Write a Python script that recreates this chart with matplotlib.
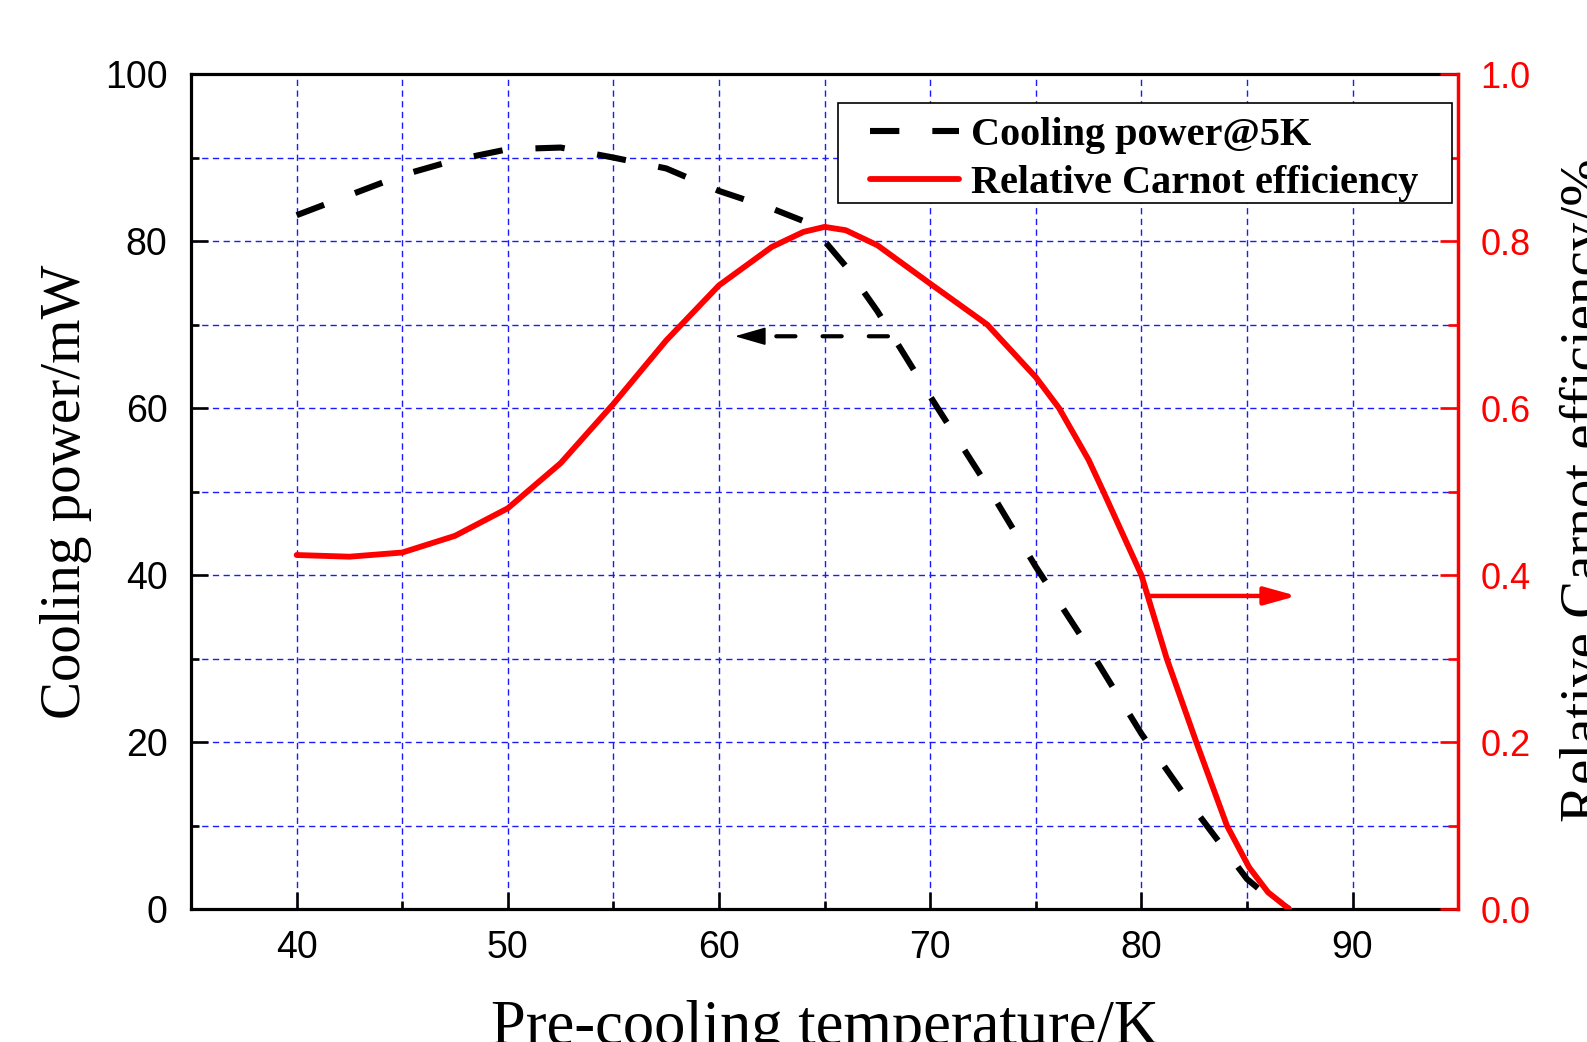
import matplotlib
matplotlib.use("Agg")
import matplotlib.pyplot as plt
from matplotlib.patches import Rectangle
from matplotlib.ticker import MultipleLocator, FormatStrFormatter

# ── Data ──────────────────────────────────────────────────────────────────
temp_cool = [40, 42.5, 45, 47.5, 50, 52.5, 55, 57.5, 60, 62.5, 64, 65, 66,
             67.5, 70, 72.5, 75, 77.5, 80, 82.5, 85, 86, 87]
cooling_power = [83.1, 85.5, 87.9, 89.7, 91.0, 91.2, 90.0, 88.7, 86.0, 83.9,
                 82.4, 80.0, 77.0, 71.6, 61.4, 51.5, 41.0, 31.3, 21.0, 12.0,
                 3.6, 1.5, 0.0]

temp_eff = [40, 42.5, 45, 47.5, 50, 52.5, 55, 57.5, 60, 62.5, 64, 65, 66,
            67.5, 70, 72.7, 75, 76.1, 77.5, 78.2, 80, 81.2, 82.6, 84.05,
            85.1, 86, 87]
carnot_eff = [0.424, 0.422, 0.427, 0.447, 0.480, 0.534, 0.605, 0.681, 0.747,
              0.793, 0.811, 0.817, 0.813, 0.795, 0.749, 0.700, 0.637, 0.600,
              0.538, 0.500, 0.400, 0.300, 0.200, 0.100, 0.050, 0.020, 0.0]

x_ticks = [40, 50, 60, 70, 80, 90]
y_ticks = [0, 20, 40, 60, 80, 100]
y2_ticks = [0.0, 0.2, 0.4, 0.6, 0.8, 1.0]

LABEL_COOL = "Cooling power@5K"
LABEL_EFF = "Relative Carnot efficiency"

# annotation arrows (which curve belongs to which axis)
ARROW_L = ((68.0, 68.6), (60.75, 68.6))
ARROW_R = ((80.3, 0.375), (87.36, 0.375))

SERIF = "Liberation Serif"
plt.rcParams["font.family"] = "Liberation Sans"

fig = plt.figure(figsize=(15.87, 10.42), dpi=100)
fig.patch.set_facecolor("white")
ax = fig.add_axes([0.1204, 0.1276, 0.7984, 0.8013])
ax2 = ax.twinx()

ax.set_xlim(35, 95)
ax.set_ylim(0, 100)
ax2.set_ylim(0, 1)

ax.set_xticks(x_ticks)
ax.set_yticks(y_ticks)
ax.xaxis.set_minor_locator(MultipleLocator(5))
ax.yaxis.set_minor_locator(MultipleLocator(10))
ax2.set_yticks(y2_ticks)
ax2.yaxis.set_minor_locator(MultipleLocator(0.1))
ax2.yaxis.set_major_formatter(FormatStrFormatter("%.1f"))

# ── grid ──────────────────────────────────────────────────────────────────
ax.set_axisbelow(True)
ax.grid(which="both", color="#1a1aff", lw=1.0, linestyle=(0, (4.5, 3.2)))

# ── spines / ticks ────────────────────────────────────────────────────────
for s in ("left", "bottom", "top"):
    ax.spines[s].set_linewidth(2.3)
    ax.spines[s].set_color("black")
ax.spines["right"].set_visible(False)
for s in ("left", "bottom", "top"):
    ax2.spines[s].set_visible(False)
ax2.spines["right"].set_color("red")
ax2.spines["right"].set_linewidth(2.5)

ax.tick_params(which="both", direction="in", top=False, right=False,
               width=1.9, labelsize=27)
ax.tick_params(which="major", length=12)
ax.tick_params(which="minor", length=6)
ax.tick_params(axis="x", pad=15)
ax.tick_params(axis="y", pad=17)
ax2.tick_params(axis="y", which="both", direction="in", colors="red",
                width=1.9, labelsize=26, pad=16)
ax2.tick_params(axis="y", which="major", length=13)
ax2.tick_params(axis="y", which="minor", length=7)

# ── curves ────────────────────────────────────────────────────────────────
l1, = ax.plot(temp_cool, cooling_power, color="black", lw=4.4,
              dashes=(4.8, 5.4), label=LABEL_COOL)
l2, = ax2.plot(temp_eff, carnot_eff, color="red", lw=4.2,
               solid_joinstyle="round", solid_capstyle="round", label=LABEL_EFF)

# ── arrows ────────────────────────────────────────────────────────────────
(x0, y0), (x1, y1) = ARROW_L
ax.annotate("", xy=(x1 + 1.3, y1), xytext=(x0, y0),
            arrowprops=dict(arrowstyle="-", color="black", lw=3.0,
                            linestyle=(0, (4.6, 6.5)),
                            shrinkA=0, shrinkB=0))
ax.annotate("", xy=(x1, y1), xytext=(x1 + 1.3, y1),
            arrowprops=dict(arrowstyle="-|>,head_length=0.97,head_width=0.28",
                            mutation_scale=20, color="black", lw=1.2,
                            shrinkA=0, shrinkB=0))
(x0, y0), (x1, y1) = ARROW_R
ax2.annotate("", xy=(x1, y1), xytext=(x0, y0),
             arrowprops=dict(arrowstyle="-|>,head_length=0.97,head_width=0.27",
                             mutation_scale=20, color="red", lw=3.2,
                             shrinkA=0, shrinkB=0))

# ── legend ────────────────────────────────────────────────────────────────
ax2.add_patch(Rectangle((0.5107, 0.8455), 0.4846, 0.1198, transform=ax2.transAxes,
                        facecolor="white", edgecolor="black", lw=1.2, zorder=4))
leg = ax2.legend(handles=[l1, l2], loc="upper left", bbox_to_anchor=(0.536, 0.949),
                 frameon=False, borderaxespad=0, borderpad=0,
                 handlelength=2.2, handletextpad=0.3, labelspacing=0.27,
                 prop={"family": SERIF, "weight": "bold", "size": 29})
leg.set_zorder(6)

# ── axis labels ───────────────────────────────────────────────────────────
ax.set_xlabel("Pre-cooling temperature/K", family=SERIF, size=45)
ax.xaxis.set_label_coords(0.5, -0.109)
ax.set_ylabel("Cooling power/mW", family=SERIF, size=41)
ax.yaxis.set_label_coords(-0.078, 0.5)
ax2.set_ylabel("Relative Carnot efficiency/%", family=SERIF, size=41)
ax2.yaxis.set_label_coords(1.0805, 0.502)

fig.savefig("out.png", dpi=100, facecolor="white")
